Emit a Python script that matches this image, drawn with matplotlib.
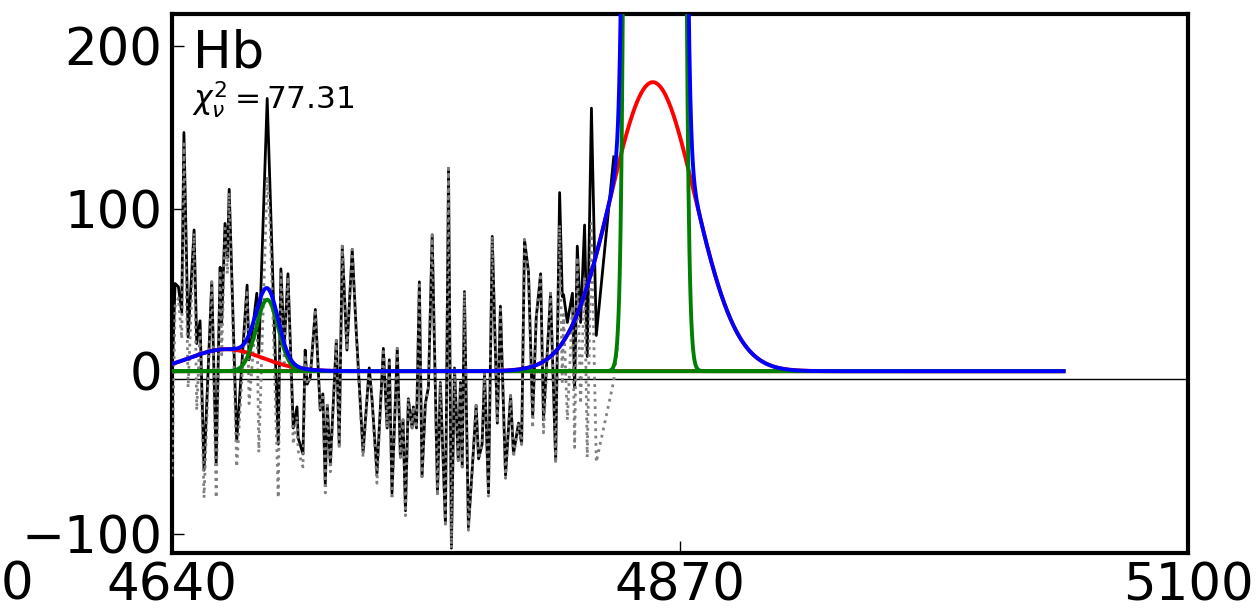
import numpy as np
import matplotlib
matplotlib.use("Agg")
from matplotlib import pyplot as plt

wave = [4640.0, 4641.4, 4642.9, 4644.4, 4645.4, 4647.3, 4650.0, 4651.2, 4652.7, 4654.5,
        4658.0, 4660.0, 4661.8, 4662.5, 4664.0, 4665.1, 4665.9, 4669.3, 4674.0, 4674.9,
        4678.4, 4679.3, 4683.1, 4684.4, 4685.8, 4688.1, 4689.3, 4690.8, 4692.5, 4694.9,
        4696.6, 4697.1, 4699.3, 4700.3, 4701.2, 4702.6, 4704.9, 4707.1, 4708.3, 4709.4,
        4710.3, 4711.7, 4714.4, 4715.7, 4717.1, 4719.2, 4721.6, 4723.4, 4726.5, 4729.3,
        4730.6, 4732.8, 4735.7, 4737.4, 4738.4, 4739.6, 4742.0, 4743.4, 4744.6, 4745.7,
        4747.0, 4748.7, 4749.3, 4750.7, 4752.0, 4753.2, 4754.7, 4756.1, 4757.8, 4760.2,
        4761.5, 4763.8, 4765.2, 4766.5, 4767.9, 4769.6, 4770.6, 4771.4, 4772.4, 4774.2,
        4775.9, 4777.7, 4778.8, 4780.4, 4781.5, 4783.3, 4785.0, 4787.3, 4788.7, 4791.0,
        4793.3, 4794.6, 4796.9, 4798.3, 4799.6, 4801.4, 4803.3, 4804.9, 4806.9, 4808.2,
        4811.4, 4813.7, 4815.5, 4816.7, 4817.3, 4819.0, 4821.3, 4822.3, 4823.5, 4825.0,
        4826.8, 4828.0, 4829.9, 4832.1, 4840.0]
flux = [-5, 54, 52, 36, 147, 21, 87, 17, 31, -61,
        55, -57, 64, 30, 91, 70, 112, -43, 53, 7,
        48, 11, 168, 112, 50, -45, 63, 15, 60, -35,
        -22, -41, -51, 13, -8, -4, 38, -24, -14, -70,
        -21, -57, 19, -45, 77, 13, 75, 25, -50, 2,
        -18, -63, 14, -35, 7, -75, 14, -53, -30, -86,
        -17, -35, -22, -35, 55, -65, -20, -10, 84, -75,
        -7, -94, 125, -109, 2, -55, -7, -59, 49, -96,
        -61, -21, -54, -45, -1, -75, 83, -32, 40, -64,
        -15, -51, -32, -45, 81, 61, -28, 33, 60, -30,
        48, -55, 110, 46, 47, 30, 48, -10, 77, 30,
        90, 9, 162, 22, 132]
wave_raw = wave + [4841.8]
flux_raw = [-65, 40, 45, 20, 140, -10, 85, -24, 25, -78,
            55, -78, 62, 10, 88, 60, 110, -59, 50, -20,
            40, -50, 120, 90, 30, -78, 60, 5, 58, -45,
            -28, -49, -59, 10, -8, -4, 38, -24, -14, -75,
            -21, -62, 19, -48, 77, 13, 75, 25, -53, 2,
            -18, -69, 14, -35, 7, -79, 14, -53, -30, -89,
            -17, -35, -22, -35, 55, -65, -20, -10, 84, -77,
            -7, -96, 125, -109, 2, -55, -7, -59, 49, -98,
            -61, -21, -54, -45, -1, -77, 83, -32, 40, -66,
            -15, -53, -32, -45, 81, 61, -35, 33, 60, -38,
            48, -57, 90, -8, 35, -30, 40, -47, 70, -20,
            58, -53, 91, -56, -6, 17]

# fitted gaussian components (centre, sigma, amplitude)
broad_comps = [(4857.7, 19.0, 178.0), (4664.5, 16.5, 13.5)]
narrow_comps = [(4858.6, 4.0, 1.6e5), (4683.1, 5.0, 44.0)]
model_range = (4640.0, 5043.6)

chi2 = 77.31
line_name = "Hb"


def gauss(x, c, s, a):
    return a * np.exp(-0.5 * ((x - c) / s) ** 2)


xm = np.linspace(model_range[0], model_range[1], 4000)
broad = [gauss(xm, *p) for p in broad_comps]
narrow = [gauss(xm, *p) for p in narrow_comps]
total = np.sum(broad, axis=0) + np.sum(narrow, axis=0)

fig = plt.figure(figsize=(12.59, 6.10), dpi=100)
ax = fig.add_axes([172 / 1259, 1 - 553 / 610, 1016 / 1259, 539 / 610])

ax.axhline(-5, color='black', lw=1.0, zorder=1)
ax.plot(wave, flux, color='black', lw=2.0, zorder=2)
ax.plot(wave_raw, flux_raw, color='grey', lw=2.0, ls=':', zorder=3)
for b in broad:
    ax.plot(xm, b, color='red', lw=2.8, zorder=4)
for n in narrow:
    ax.plot(xm, n, color='green', lw=2.8, zorder=5)
ax.plot(xm, total, color='blue', lw=2.8, zorder=6)

ax.set_xlim(4640, 5100)
ax.set_ylim(-112, 220)
ax.set_xticks([4640, 4870, 5100])
ax.set_yticks([-100, 0, 100, 200])
ax.tick_params(direction='in', length=8.5, width=1.0, labelsize=37)
ax.tick_params(axis='x', pad=6)
ax.tick_params(axis='y', pad=7)
for sp in ax.spines.values():
    sp.set_linewidth(3)

ax.text(0.0207, 0.900, line_name, transform=ax.transAxes, fontsize=37, va='baseline')
ax.text(0.0197, 0.824, r'$\chi^2_\nu = %.2f$' % chi2, transform=ax.transAxes,
        fontsize=22.5, va='baseline')

# tick label left over from the neighbouring panel
fig.text(33 / 1259, 1 - 561 / 610, "0", fontsize=37, ha='right', va='top')

fig.savefig("out.png", dpi=100)
